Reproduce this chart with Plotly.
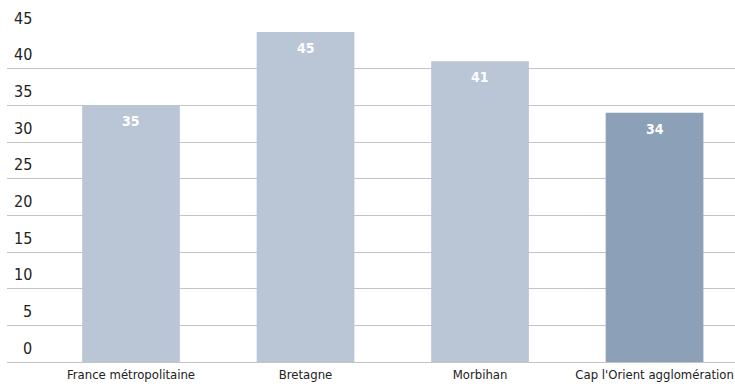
import plotly.graph_objects as go

categories = ["France métropolitaine", "Bretagne", "Morbihan", "Cap l'Orient agglomération"]
values = [35, 45, 41, 34]
bar_colors = ["#bac6d6", "#bac6d6", "#bac6d6", "#8ca1b8"]
y_ticks = [0, 5, 10, 15, 20, 25, 30, 35, 40, 45]

FONT = "DejaVu Sans Condensed, Liberation Sans Narrow, Arial Narrow, sans-serif"

fig = go.Figure()
fig.add_trace(go.Bar(
    x=categories,
    y=values,
    marker=dict(color=bar_colors, line=dict(width=0)),
    width=0.56,
    hoverinfo="x+y",
))

annotations = []
# value labels inside the top of each bar
for c, v in zip(categories, values):
    annotations.append(dict(
        x=c, y=v, xref="x", yref="y", text=str(v), showarrow=False,
        yshift=-16, font=dict(family=FONT, size=14, color="white", weight=600),
    ))
# y tick labels sit just above their gridline
for t in y_ticks:
    annotations.append(dict(
        x=0.037, y=t, xref="paper", yref="y", text=str(t), showarrow=False,
        xanchor="right", yanchor="middle", yshift=14,
        font=dict(family=FONT, size=16, color="#222222"),
    ))

fig.update_layout(
    width=735, height=389,
    margin=dict(l=7, r=0, t=32, b=27, autoexpand=False),
    paper_bgcolor="white", plot_bgcolor="white",
    showlegend=False,
    bargap=0.44,
    font=dict(family=FONT, size=14, color="#222222"),
    annotations=annotations,
    xaxis=dict(
        range=[-0.7106, 3.461], automargin=False,
        showgrid=False, zeroline=False, showline=False,
        ticks="", ticklabelstandoff=3,
        tickfont=dict(family=FONT, size=13, color="#222222"),
        fixedrange=True,
    ),
    yaxis=dict(
        range=[0, 45], tickvals=y_ticks, showticklabels=False, automargin=False,
        showgrid=True, gridcolor="#c4c4c4", gridwidth=1,
        zeroline=True, zerolinecolor="#c4c4c4", zerolinewidth=1,
        showline=False, ticks="", fixedrange=True,
    ),
)

fig.write_html("out.html")
